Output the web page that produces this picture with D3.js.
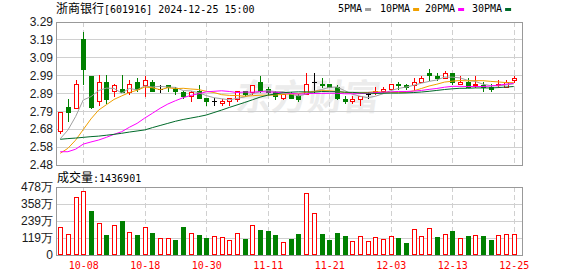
<!DOCTYPE html>
<meta charset="utf-8">
<style>
    body {
        margin: 0;
        background: #fff;
    }

    .mono {
        font-family: 'DejaVu Sans Mono', monospace;
        font-size: 10px;
    }

    .cjk {
        font-family: 'Noto Sans CJK SC', sans-serif;
        font-size: 12px;
    }

    .axis-label {
        font-family: 'Liberation Sans', Arial, sans-serif;
        font-size: 12px;
        fill: #1a1a1a;
    }
</style>
<svg width="578" height="276"></svg>
<script src="https://d3js.org/d3.v7.min.js"></script>
<script>
    // trading days shown (2024)
    var dates = ["09-26", "09-27", "09-30", "10-08", "10-09", "10-10", "10-11", "10-14", "10-15", "10-16",
        "10-17", "10-18", "10-21", "10-22", "10-23", "10-24", "10-25", "10-28", "10-29", "10-30",
        "10-31", "11-01", "11-04", "11-05", "11-06", "11-07", "11-08", "11-11", "11-12", "11-13",
        "11-14", "11-15", "11-18", "11-19", "11-20", "11-21", "11-22", "11-25", "11-26", "11-27",
        "11-28", "11-29", "12-02", "12-03", "12-04", "12-05", "12-06", "12-09", "12-10", "12-11",
        "12-12", "12-13", "12-16", "12-17", "12-18", "12-19", "12-20", "12-23", "12-24", "12-25"];

    var open = [2.67, 2.81, 2.80, 3.19, 2.98, 2.84, 2.95, 2.90, 2.91, 2.89,
        2.95, 2.93, 2.95, 2.91, 2.93, 2.91, 2.89, 2.87, 2.90, 2.86,
        2.84, 2.83, 2.84, 2.85, 2.90, 2.89, 2.95, 2.91, 2.89, 2.86,
        2.88, 2.87, 2.88, 2.95, 2.94, 2.94, 2.92, 2.85, 2.84, 2.85,
        2.88, 2.89, 2.90, 2.91, 2.94, 2.93, 2.93, 2.95, 3.00, 2.98,
        2.97, 3.00, 2.94, 2.95, 2.93, 2.93, 2.92, 2.93, 2.92, 2.96];
    var high = [2.78, 2.85, 2.96, 3.23, 2.98, 2.99, 2.99, 2.94, 2.99, 2.96,
        2.97, 2.98, 2.96, 2.93, 2.93, 2.92, 2.90, 2.90, 2.93, 2.86,
        2.86, 2.85, 2.86, 2.90, 2.90, 2.93, 2.98, 2.92, 2.90, 2.88,
        2.89, 2.88, 3.00, 3.00, 2.97, 2.94, 2.93, 2.87, 2.87, 2.87,
        2.89, 2.92, 2.92, 2.94, 2.95, 2.94, 2.97, 2.98, 3.02, 3.00,
        3.01, 3.00, 2.98, 2.97, 2.98, 2.95, 2.94, 2.96, 2.96, 2.98];
    var low = [2.66, 2.73, 2.80, 2.94, 2.80, 2.82, 2.83, 2.87, 2.89, 2.88,
        2.90, 2.87, 2.90, 2.89, 2.90, 2.88, 2.86, 2.84, 2.86, 2.82,
        2.82, 2.82, 2.82, 2.84, 2.87, 2.88, 2.89, 2.88, 2.85, 2.85,
        2.86, 2.84, 2.88, 2.89, 2.92, 2.92, 2.85, 2.83, 2.83, 2.82,
        2.86, 2.88, 2.89, 2.91, 2.91, 2.91, 2.91, 2.95, 2.96, 2.96,
        2.97, 2.94, 2.94, 2.92, 2.92, 2.90, 2.90, 2.92, 2.92, 2.95];
    var close = [2.78, 2.78, 2.94, 3.02, 2.81, 2.95, 2.85, 2.93, 2.89, 2.94,
        2.91, 2.96, 2.90, 2.91, 2.92, 2.90, 2.87, 2.89, 2.86, 2.84,
        2.84, 2.84, 2.86, 2.90, 2.88, 2.93, 2.90, 2.89, 2.87, 2.88,
        2.86, 2.85, 2.94, 2.95, 2.93, 2.92, 2.86, 2.84, 2.85, 2.87,
        2.88, 2.90, 2.91, 2.94, 2.93, 2.92, 2.95, 2.97, 2.99, 2.97,
        3.00, 2.95, 2.95, 2.92, 2.94, 2.92, 2.91, 2.94, 2.95, 2.97];

    // volume, in 万 (last one is 1436901)
    var volume = [194, 145, 408, 446, 308, 222, 140, 210, 238, 159,
        140, 198, 152, 117, 117, 105, 194, 152, 140, 117,
        133, 124, 105, 152, 112, 210, 175, 168, 140, 89,
        112, 147, 430, 292, 147, 105, 152, 133, 98, 133,
        98, 124, 112, 133, 117, 82, 180, 133, 187, 126,
        145, 168, 117, 133, 138, 133, 105, 138, 145, 143.6901];

    var ma5 = [2.628, 2.677, 2.753, 2.847, 2.866, 2.900, 2.914, 2.912, 2.886, 2.912,
        2.904, 2.926, 2.920, 2.924, 2.920, 2.918, 2.900, 2.898, 2.888, 2.872,
        2.860, 2.854, 2.848, 2.856, 2.864, 2.882, 2.894, 2.900, 2.894, 2.894,
        2.880, 2.870, 2.880, 2.896, 2.906, 2.918, 2.920, 2.900, 2.880, 2.868,
        2.860, 2.868, 2.882, 2.900, 2.912, 2.920, 2.930, 2.942, 2.952, 2.960,
        2.976, 2.976, 2.972, 2.958, 2.952, 2.936, 2.928, 2.926, 2.932, 2.938];
    var ma10 = [2.546, 2.574, 2.620, 2.680, 2.740, 2.790, 2.820, 2.850, 2.870, 2.889,
        2.902, 2.920, 2.916, 2.905, 2.916, 2.911, 2.913, 2.909, 2.906, 2.896,
        2.889, 2.877, 2.873, 2.872, 2.868, 2.871, 2.874, 2.874, 2.875, 2.879,
        2.881, 2.882, 2.890, 2.895, 2.900, 2.899, 2.895, 2.890, 2.888, 2.887,
        2.889, 2.894, 2.891, 2.890, 2.890, 2.890, 2.899, 2.912, 2.926, 2.936,
        2.948, 2.953, 2.957, 2.955, 2.956, 2.956, 2.952, 2.949, 2.945, 2.945];
    var ma20 = [2.555, 2.555, 2.569, 2.598, 2.610, 2.621, 2.636, 2.653, 2.668, 2.693,
        2.715, 2.745, 2.772, 2.800, 2.824, 2.843, 2.860, 2.873, 2.882, 2.893,
        2.896, 2.899, 2.895, 2.889, 2.892, 2.891, 2.894, 2.892, 2.891, 2.888,
        2.885, 2.880, 2.882, 2.884, 2.884, 2.885, 2.885, 2.882, 2.882, 2.883,
        2.885, 2.888, 2.891, 2.893, 2.895, 2.895, 2.897, 2.901, 2.907, 2.912,
        2.919, 2.924, 2.924, 2.923, 2.923, 2.923, 2.926, 2.931, 2.936, 2.941];
    var ma30 = [2.625, 2.629, 2.632, 2.636, 2.640, 2.643, 2.648, 2.653, 2.659, 2.666,
        2.672, 2.678, 2.691, 2.703, 2.715, 2.727, 2.737, 2.745, 2.753, 2.762,
        2.776, 2.790, 2.805, 2.819, 2.833, 2.848, 2.863, 2.874, 2.881, 2.888,
        2.891, 2.893, 2.893, 2.891, 2.895, 2.894, 2.894, 2.891, 2.890, 2.887,
        2.886, 2.884, 2.885, 2.886, 2.886, 2.887, 2.889, 2.892, 2.896, 2.901,
        2.906, 2.910, 2.913, 2.913, 2.915, 2.915, 2.915, 2.917, 2.920, 2.923];

    var priceLabels = ["2.48", "2.58", "2.68", "2.79", "2.89", "2.99", "3.09", "3.19", "3.29"];
    var volLabels = ["0", "119万", "239万", "358万", "478万"];
    var dateTicks = ["10-08", "10-18", "10-30", "11-11", "11-21", "12-03", "12-13", "12-25"];

    var maNames = ["5PMA", "10PMA", "20PMA", "30PMA"];
    var maColors = ["#a0a0a0", "#f0a000", "#ff00ff", "#006a2a"];

    var svg = d3.select("svg"),
        left = 56, right = 522,
        pTop = 21.5, pBottom = 165,   // price panel
        vTop = 186.5, vBottom = 255;  // volume panel

    var RED = "#ff0000", GREEN = "#008000";

    var x = d3.scalePoint().domain(dates).range([60.2, 513.7]);
    var y = d3.scaleLinear().domain([2.48, 3.29]).range([pBottom, pTop]);
    var yv = d3.scaleLinear().domain([0, 478]).range([vBottom, vTop]);

    var priceTicks = priceLabels.map(function (d, i) {
        return 2.48 + i * (3.29 - 2.48) / (priceLabels.length - 1);
    });
    var volTicks = volLabels.map(function (d, i) {
        return i * 478 / (volLabels.length - 1);
    });

    function px(v) { return Math.round(v) + 0.5; }

    // watermark
    svg.append("text")
        .attr("x", 236)
        .attr("y", 110)
        .attr("transform", "skewX(-8) translate(14,0)")
        .attr("font-family", "'Noto Sans CJK SC', sans-serif")
        .attr("font-weight", "bold")
        .attr("font-size", 36)
        .attr("fill", "#ececec")
        .text("东方财富");

    // grid
    var grid = svg.append("g").attr("shape-rendering", "crispEdges");
    grid.selectAll(".hp")
        .data(priceTicks.slice(1, -1))
        .enter().append("line")
        .attr("x1", left).attr("x2", right)
        .attr("y1", function (d) { return px(y(d)); })
        .attr("y2", function (d) { return px(y(d)); })
        .attr("stroke", "#d0d0d0");
    grid.selectAll(".hv")
        .data(volTicks.slice(1, -1))
        .enter().append("line")
        .attr("x1", left).attr("x2", right)
        .attr("y1", function (d) { return px(yv(d)); })
        .attr("y2", function (d) { return px(yv(d)); })
        .attr("stroke", "#d0d0d0");
    [[pTop, pBottom], [vTop, vBottom]].forEach(function (r) {
        grid.selectAll(null)
            .data(dateTicks)
            .enter().append("line")
            .attr("x1", function (d) { return px(x(d)); })
            .attr("x2", function (d) { return px(x(d)); })
            .attr("y1", r[0]).attr("y2", r[1])
            .attr("stroke", "#d0d0d0")
            .attr("stroke-dasharray", "5,3");
    });

    // candles
    var candles = svg.append("g").attr("shape-rendering", "crispEdges");
    dates.forEach(function (d, i) {
        var cx = Math.round(x(d)),
            o = open[i], c = close[i],
            col = c > o ? RED : (c < o ? GREEN : "#000"),
            yTop = Math.round(y(Math.max(o, c))),
            yBot = Math.round(y(Math.min(o, c))),
            yHi = Math.round(y(high[i])),
            yLo = Math.round(y(low[i]));
        var g = candles.append("g").attr("stroke", col);
        if (c > o) {
            g.append("line").attr("x1", cx + 0.5).attr("x2", cx + 0.5).attr("y1", yHi).attr("y2", yTop);
            g.append("line").attr("x1", cx + 0.5).attr("x2", cx + 0.5).attr("y1", yBot).attr("y2", yLo + 1);
            g.append("rect")
                .attr("x", cx - 1.5).attr("y", yTop + 0.5)
                .attr("width", 4).attr("height", Math.max(1, yBot - yTop))
                .attr("fill", "#fff");
        } else {
            g.append("line").attr("x1", cx + 0.5).attr("x2", cx + 0.5).attr("y1", yHi).attr("y2", yLo + 1);
            if (yBot - yTop >= 1) {
                g.append("rect")
                    .attr("x", cx - 1.5).attr("y", yTop + 0.5)
                    .attr("width", 4).attr("height", yBot - yTop)
                    .attr("fill", col);
            } else {
                g.append("line").attr("x1", cx - 2).attr("x2", cx + 3)
                    .attr("y1", yTop + 0.5).attr("y2", yTop + 0.5);
            }
        }
    });

    // moving averages
    [ma5, ma10, ma20, ma30].forEach(function (series, k) {
        svg.append("path")
            .datum(series)
            .attr("fill", "none")
            .attr("stroke", maColors[k])
            .attr("stroke-width", 1)
            .attr("d", d3.line()
                .x(function (d, i) { return x(dates[i]); })
                .y(function (d) { return y(d); }));
    });

    // volume bars (red when the close is not below the previous close)
    var bars = svg.append("g").attr("shape-rendering", "crispEdges");
    bars.selectAll("rect")
        .data(volume)
        .enter().append("rect")
        .each(function (v, i) {
            var up = i === 0 || close[i] >= close[i - 1],
                cx = Math.round(x(dates[i])),
                yt = Math.round(yv(v));
            d3.select(this)
                .attr("x", cx - 1.5)
                .attr("y", yt + 0.5)
                .attr("width", 4)
                .attr("height", Math.round(yv(0)) - yt - 1)
                .attr("fill", up ? "#fff" : GREEN)
                .attr("stroke", up ? RED : GREEN);
        });

    // frames
    [[pTop, pBottom], [vTop, vBottom]].forEach(function (r) {
        svg.append("rect")
            .attr("x", left + 0.5).attr("y", Math.round(r[0]) + 0.5)
            .attr("width", right - left).attr("height", Math.round(r[1]) - Math.round(r[0]))
            .attr("fill", "none")
            .attr("stroke", "#999")
            .attr("shape-rendering", "crispEdges");
    });

    // y labels
    svg.append("g").selectAll("text")
        .data(priceTicks)
        .enter().append("text")
        .attr("class", "axis-label")
        .attr("x", 53)
        .attr("y", function (d) { return y(d); })
        .attr("dy", "0.36em")
        .attr("text-anchor", "end")
        .text(function (d, i) { return priceLabels[i]; });

    svg.append("g").selectAll("text")
        .data(volTicks)
        .enter().append("text")
        .attr("class", "axis-label")
        .attr("x", 53)
        .attr("y", function (d) { return yv(d); })
        .attr("dy", "0.36em")
        .attr("text-anchor", "end")
        .text(function (d, i) { return volLabels[i]; });

    // x labels
    svg.append("g").selectAll("text")
        .data(dateTicks)
        .enter().append("text")
        .attr("class", "mono")
        .attr("x", function (d) { return x(d) + 0.5; })
        .attr("y", 269)
        .attr("text-anchor", "middle")
        .attr("fill", RED)
        .text(function (d) { return d; });

    // title
    var title = svg.append("text").attr("x", 56).attr("y", 12.5);
    title.append("tspan").attr("class", "cjk").text("浙商银行");
    title.append("tspan").attr("class", "mono").text("[601916] 2024-12-25 15:00");

    // volume caption
    var cap = svg.append("text").attr("x", 57).attr("y", 182);
    cap.append("tspan").attr("class", "cjk").text("成交量");
    cap.append("tspan").attr("class", "mono").text(":" + Math.round(volume[volume.length - 1] * 10000));

    // legend
    var legendX = [338, 380, 425, 472];
    var legend = svg.append("g").selectAll("g")
        .data(maNames)
        .enter().append("g")
        .attr("transform", function (d, i) { return "translate(" + legendX[i] + ",0)"; });
    legend.append("text")
        .attr("class", "mono")
        .attr("y", 12)
        .text(function (d) { return d; });
    legend.append("rect")
        .attr("x", function (d) { return d.length * 6.02 + 3; })
        .attr("y", 8)
        .attr("width", 6)
        .attr("height", 3)
        .attr("fill", function (d, i) { return maColors[i]; });
</script>
